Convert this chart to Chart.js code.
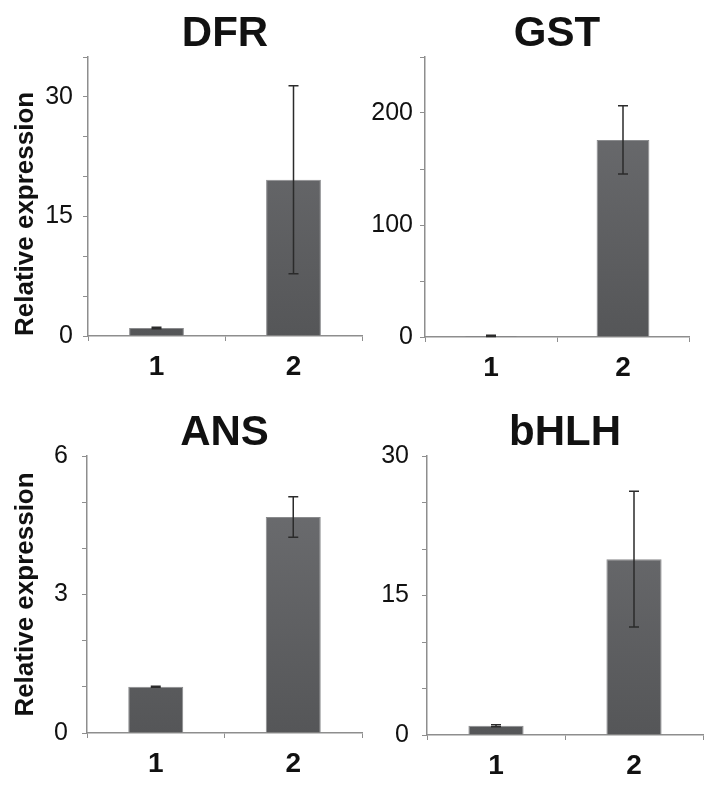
<!DOCTYPE html>
<html>
<head>
<meta charset="utf-8">
<script src="https://cdn.jsdelivr.net/npm/chart.js@4"></script>
<style>
  body { margin: 0; background: #fff; }
  #wrap { position: relative; width: 721px; height: 793px; }
  .panel { position: absolute; }
</style>
</head>
<body>
<div id="wrap">
  <div class="panel" style="left:0;top:0;width:365px;height:397px"><canvas id="c0"></canvas></div>
  <div class="panel" style="left:365px;top:0;width:356px;height:397px"><canvas id="c1"></canvas></div>
  <div class="panel" style="left:0;top:397px;width:365px;height:396px"><canvas id="c2"></canvas></div>
  <div class="panel" style="left:365px;top:397px;width:356px;height:396px"><canvas id="c3"></canvas></div>
</div>
<script>
// data
var samples = ["1", "2"];
var genes = ["DFR", "GST", "ANS", "bHLH"];
var dfrMean = [1.0, 19.6];
var dfrErr = [0.1, 11.8];
var gstMean = [1.0, 176];
var gstErr = [0.5, 30.5];
var ansMean = [1.0, 4.68];
var ansErr = [0.01, 0.44];
var bhlhMean = [1.0, 18.9];
var bhlhErr = [0.1, 7.3];
var yMax = [35, 250, 6, 30];
var yStep = [5, 50, 1, 5];
var yLabelEvery = [15, 100, 3, 15];

var means = [dfrMean, gstMean, ansMean, bhlhMean];
var errs = [dfrErr, gstErr, ansErr, bhlhErr];

// per panel layout (axis width, axis height, padding)
var panels = [
  { yWidth: 88, xHeight: 61, top: 53, right: 3, tickPad: 10, yTitle: true, yTitleAlign: "start" },
  { yWidth: 60, xHeight: 60, top: 53, right: 32, tickPad: 7, yTitle: false },
  { yWidth: 87, xHeight: 60, top: 55, right: 3, tickPad: 14, yTitle: true, yTitleAlign: "center" },
  { yWidth: 62, xHeight: 58, top: 55, right: 18, tickPad: 13, yTitle: false }
];

var font = "'Liberation Sans', Arial, Helvetica, sans-serif";
var axisGray = "#8e8e8e";

var errorBars = {
  id: "errorBars",
  afterDatasetsDraw: function(chart) {
    var ctx = chart.ctx;
    var meta = chart.getDatasetMeta(0);
    var ds = chart.data.datasets[0];
    var y = chart.scales.y;
    ctx.save();
    ctx.strokeStyle = "#2b2b2b";
    ctx.lineWidth = 1.5;
    meta.data.forEach(function(bar, i) {
      var v = ds.data[i], e = ds.err[i];
      var yTop = y.getPixelForValue(v + e);
      var yBot = y.getPixelForValue(v - e);
      ctx.beginPath();
      ctx.moveTo(bar.x, yTop); ctx.lineTo(bar.x, yBot);
      ctx.moveTo(bar.x - 5, yTop); ctx.lineTo(bar.x + 5, yTop);
      ctx.moveTo(bar.x - 5, yBot); ctx.lineTo(bar.x + 5, yBot);
      ctx.stroke();
    });
    ctx.restore();
  }
};

function barFill(context) {
  var area = context.chart.chartArea;
  if (!area) return "#606163";
  var g = context.chart.ctx.createLinearGradient(0, area.top, 0, area.bottom);
  g.addColorStop(0, "#6f7073");
  g.addColorStop(1, "#555658");
  return g;
}

genes.forEach(function(gene, k) {
  var p = panels[k];
  new Chart(document.getElementById("c" + k), {
    type: "bar",
    data: {
      labels: samples,
      datasets: [{
        data: means[k],
        err: errs[k],
        backgroundColor: barFill,
        borderColor: "#8a8b8d",
        borderWidth: 1,
        categoryPercentage: 1,
        barPercentage: 0.4
      }]
    },
    options: {
      responsive: true,
      maintainAspectRatio: false,
      animation: false,
      layout: { padding: { left: 0, right: p.right, top: 0, bottom: 0 } },
      plugins: {
        legend: { display: false },
        tooltip: { enabled: false },
        title: {
          display: true,
          text: gene,
          fullSize: false,
          color: "#111",
          font: { family: font, size: 42, weight: "bold", lineHeight: 1 },
          padding: { top: p.top - 40, bottom: 2 }
        }
      },
      scales: {
        x: {
          grid: { drawOnChartArea: false, color: axisGray, tickLength: 5, offset: true },
          border: { color: axisGray, width: 1.5 },
          ticks: { color: "#111", padding: 9, font: { family: font, size: 28, weight: "bold" } },
          afterFit: function(s) { s.height = p.xHeight; }
        },
        y: {
          min: 0,
          max: yMax[k],
          grid: { drawOnChartArea: false, color: axisGray, tickLength: 5 },
          border: { color: axisGray, width: 1.5 },
          ticks: {
            stepSize: yStep[k],
            autoSkip: false,
            padding: p.tickPad,
            color: "#111",
            font: { family: font, size: 25 },
            callback: function(v) { return v % yLabelEvery[k] === 0 ? v : ""; }
          },
          title: {
            display: p.yTitle,
            text: "Relative expression",
            align: p.yTitleAlign || "center",
            color: "#111",
            font: { family: font, size: 26, weight: "bold" },
            padding: { top: 10, bottom: 0 }
          },
          afterFit: function(s) { s.width = p.yWidth; }
        }
      }
    },
    plugins: [errorBars]
  });
});
</script>
</body>
</html>
